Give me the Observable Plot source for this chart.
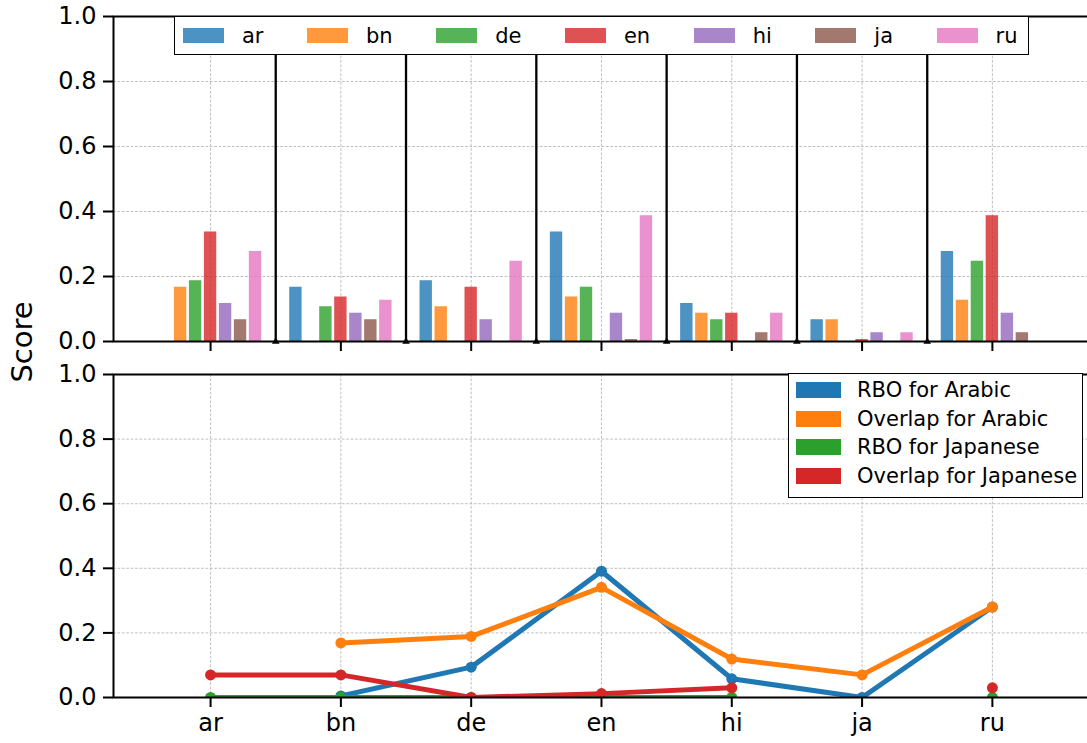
<!DOCTYPE html>
<html><head><meta charset="utf-8">
<script src="https://cdn.jsdelivr.net/npm/d3@7"></script>
<script src="https://cdn.jsdelivr.net/npm/@observablehq/plot@0.6"></script>
<style>
body{margin:0;background:#fff;font-family:"DejaVu Sans",sans-serif;}
#fig{position:relative;width:1087px;height:743px;overflow:hidden;background:#fff;}
.panel{position:absolute;left:0;max-width:none !important;}
.legend{position:absolute;background:#fff;border:1.5px solid #000;box-sizing:border-box;font-family:"DejaVu Sans",sans-serif;color:#000;}
#legTop{left:174px;top:16px;width:855px;height:39px;display:flex;align-items:center;padding-left:8px;font-size:21px;}
#legTop .item{display:flex;align-items:center;margin-right:43.5px;}
#legTop .sw{width:41px;height:15px;margin-right:18px;}
#legBot{left:788px;top:373px;width:295px;height:125px;padding:2px 0 0 7px;font-size:21px;}
#legBot .item{display:flex;align-items:center;height:28.5px;}
#legBot .sw{width:45px;height:16px;margin-right:16px;}
#ylab{position:absolute;left:22px;top:342px;transform:translate(-50%,-50%) rotate(-90deg);font-size:29px;font-family:"DejaVu Sans",sans-serif;white-space:nowrap;}
</style></head><body><div id="fig"></div>
<script>
// ---- data ----
const languages = ["ar","bn","de","en","hi","ja","ru"];
const barColors = ["#1f77b4","#ff7f0e","#2ca02c","#d62728","#9467bd","#8c564b","#e377c2"];
// top panel: one array per group, values per bar language (ar..ru)
const groupAr = [0, 0.167, 0.187, 0.337, 0.117, 0.067, 0.277];
const groupBn = [0.167, 0, 0.107, 0.137, 0.087, 0.067, 0.127];
const groupDe = [0.187, 0.107, 0, 0.167, 0.067, 0, 0.247];
const groupEn = [0.337, 0.137, 0.167, 0, 0.087, 0.006, 0.387];
const groupHi = [0.117, 0.087, 0.067, 0.087, 0, 0.027, 0.087];
const groupJa = [0.067, 0.067, 0, 0.006, 0.027, 0, 0.027];
const groupRu = [0.277, 0.127, 0.247, 0.387, 0.087, 0.027, 0];
const groups = [groupAr, groupBn, groupDe, groupEn, groupHi, groupJa, groupRu];
// bottom panel
const lineNames = ["RBO for Arabic","Overlap for Arabic","RBO for Japanese","Overlap for Japanese"];
const lineColors = ["#1f77b4","#ff7f0e","#2ca02c","#d62728"];
const rboArabic = [null, 0.005, 0.094, 0.391, 0.058, 0.0, 0.28];
const overlapArabic = [null, 0.169, 0.189, 0.341, 0.119, 0.07, 0.28];
const rboJapanese = [0, 0, 0, 0, 0, null, 0];
const overlapJapanese = [0.07, 0.07, 0, 0.012, 0.03, null, 0.03];
const lineSeries = [rboArabic, overlapArabic, rboJapanese, overlapJapanese];
const yTicks = [0, 0.2, 0.4, 0.6, 0.8, 1.0];

// ---- derived tables ----
const idx = languages.map((_, i) => i);
const barStep = 0.115;
const bars = [];
groups.forEach((vals, g) => vals.forEach((v, s) => {
  const c = g + (s - 3) * barStep;
  bars.push({group: languages[g], lang: languages[s], x1: c - barStep / 2, x2: c + barStep / 2, value: v});
}));
const separators = idx.slice(1).map(i => i - 0.5);
const xDomain = [-0.745, 6.753];
const fmt = d3.format(".1f");
const gridStyle = {stroke: "#b0b0b0", strokeOpacity: 1, strokeWidth: 0.8, strokeDasharray: "2.8,1.6"};
const common = {
  width: 1090, marginLeft: 113, marginRight: 0,
  x: {domain: xDomain},
  y: {domain: [0, 1]},
  color: {domain: languages, range: barColors},
  style: {fontFamily: "DejaVu Sans", fontSize: "24px", color: "#000", background: "transparent", overflow: "visible", maxWidth: "none"}
};

const fig = document.getElementById("fig");

// ---- top panel ----
const topPanel = Plot.plot({
  ...common, height: 360, marginTop: 16, marginBottom: 19,
  marks: [
    Plot.gridX(idx, gridStyle),
    Plot.gridY([0.2, 0.4, 0.6, 0.8], gridStyle),
    Plot.rectY(bars, {x1: "x1", x2: "x2", y1: 0, y2: "value", fill: "lang", fillOpacity: 0.8, insetLeft: 1.3, insetRight: 1.3}),
    Plot.ruleX(separators, {y1: 0, y2: 1, stroke: "#000", strokeWidth: 2.3}),
    Plot.dot(separators, {x: d => d, y: 0, symbol: "triangle", r: 2.8, fill: "#000"}),
    Plot.frame({stroke: "#000", strokeWidth: 2}),
    Plot.axisY(yTicks, {tickFormat: fmt, tickSize: 10, tickPadding: 7, strokeWidth: 2, label: null, fontSize: 24}),
    Plot.axisX(idx, {tickFormat: () => "", tickSize: 10, strokeWidth: 2, label: null})
  ]
});
topPanel.classList.add("panel"); topPanel.style.top = "0px"; topPanel.style.maxWidth = "none";
fig.appendChild(topPanel);

// ---- bottom panel ----
const lineMarks = [];
lineSeries.forEach((vals, k) => {
  const rows = vals.map((v, i) => ({x: i, y: v}));
  lineMarks.push(Plot.line(rows, {x: "x", y: "y", stroke: lineColors[k], strokeWidth: 5, strokeLinejoin: "round", strokeLinecap: "round", clip: true}));
  lineMarks.push(Plot.dot(rows.filter(d => d.y != null), {x: "x", y: "y", fill: lineColors[k], r: 5.5, clip: true}));
});
const bottomPanel = Plot.plot({
  ...common, height: 383, marginTop: 14, marginBottom: 46,
  marks: [
    Plot.gridX(idx, gridStyle),
    Plot.gridY([0.2, 0.4, 0.6, 0.8], gridStyle),
    ...lineMarks,
    Plot.frame({stroke: "#000", strokeWidth: 2}),
    Plot.axisY(yTicks, {tickFormat: fmt, tickSize: 10, tickPadding: 7, strokeWidth: 2, label: null, fontSize: 24}),
    Plot.axisX(idx, {tickFormat: i => languages[i], tickSize: 10, tickPadding: 6, strokeWidth: 2, label: null, fontSize: 24})
  ]
});
bottomPanel.classList.add("panel"); bottomPanel.style.top = "360px"; bottomPanel.style.maxWidth = "none";
fig.appendChild(bottomPanel);

// ---- legends ----
const legTop = document.createElement("div");
legTop.className = "legend"; legTop.id = "legTop";
languages.forEach((l, i) => {
  const it = document.createElement("div"); it.className = "item";
  const sw = document.createElement("div"); sw.className = "sw"; sw.style.background = barColors[i]; sw.style.opacity = 0.8;
  const tx = document.createElement("span"); tx.textContent = l;
  it.append(sw, tx); legTop.appendChild(it);
});
fig.appendChild(legTop);

const legBot = document.createElement("div");
legBot.className = "legend"; legBot.id = "legBot";
lineNames.forEach((n, i) => {
  const it = document.createElement("div"); it.className = "item";
  const sw = document.createElement("div"); sw.className = "sw"; sw.style.background = lineColors[i];
  const tx = document.createElement("span"); tx.textContent = n;
  it.append(sw, tx); legBot.appendChild(it);
});
fig.appendChild(legBot);

const yl = document.createElement("div"); yl.id = "ylab"; yl.textContent = "Score";
fig.appendChild(yl);
</script>
</body></html>
